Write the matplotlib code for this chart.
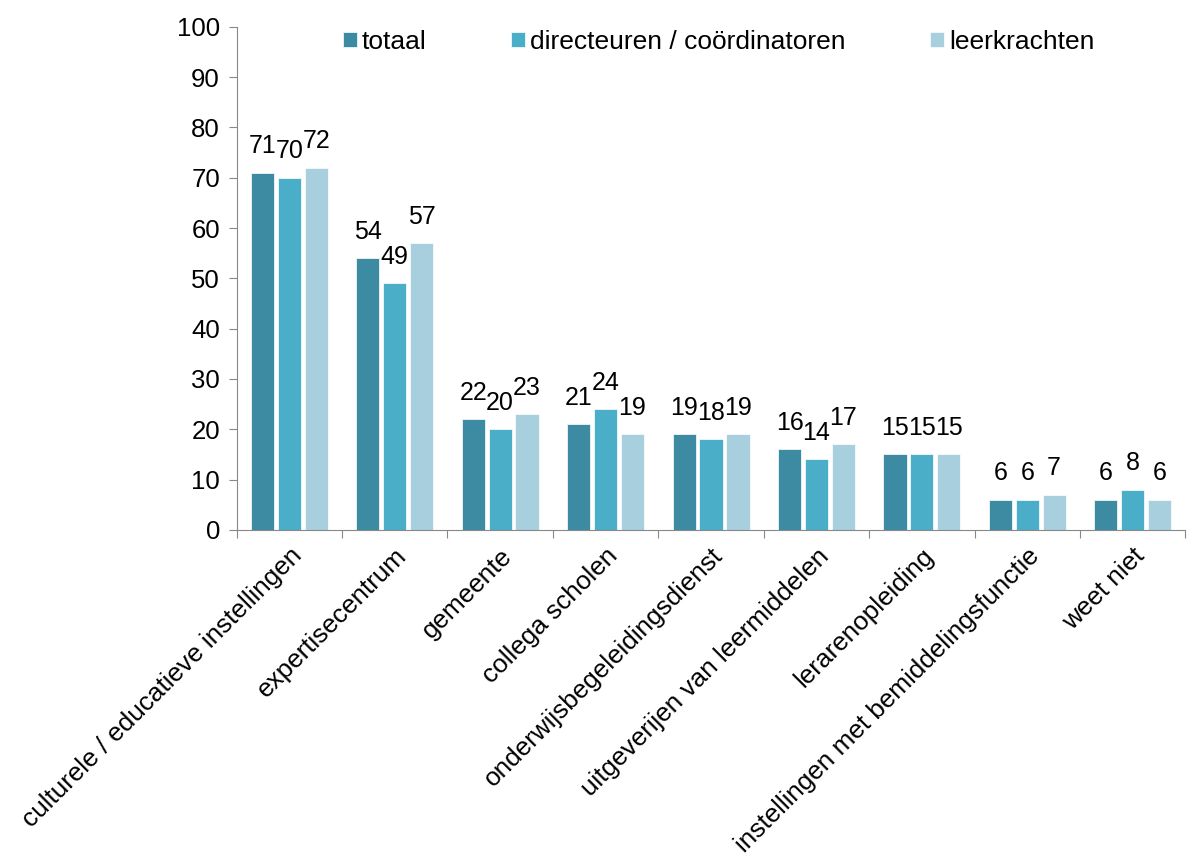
import matplotlib
matplotlib.use("Agg")
import matplotlib.pyplot as plt
import numpy as np

plt.rcParams['font.family'] = ['Liberation Sans', 'DejaVu Sans']

categories = ["culturele / educatieve instellingen", "expertisecentrum", "gemeente",
              "collega scholen", "onderwijsbegeleidingsdienst", "uitgeverijen van leermiddelen",
              "lerarenopleiding", "instellingen met bemiddelingsfunctie", "weet niet"]
series_names = ["totaal", "directeuren / coördinatoren", "leerkrachten"]
totaal = [71, 54, 22, 21, 19, 16, 15, 6, 6]
directeuren = [70, 49, 20, 24, 18, 14, 15, 6, 8]
leerkrachten = [72, 57, 23, 19, 19, 17, 15, 7, 6]
y_ticks = list(range(0, 101, 10))

colors = ["#3C8BA3", "#4BAEC8", "#A8CFDD"]

fig = plt.figure(figsize=(11.95, 8.63), dpi=100)
ax = fig.add_axes([0.198, 0.386, 0.794, 0.583])

x = np.arange(len(categories))
w = 0.22
offsets = [-0.255, 0.0, 0.255]
for vals, off, c, name in zip([totaal, directeuren, leerkrachten], offsets, colors, series_names):
    bars = ax.bar(x + off, vals, width=w, color=c, label=name, edgecolor='white', linewidth=0.5)
    for b, v in zip(bars, vals):
        ax.annotate(str(v), (b.get_x() + b.get_width() / 2, v), xytext=(0, 19),
                    textcoords='offset points', ha='center', va='center', fontsize=18)

ax.set_xlim(-0.5, len(categories) - 0.5)
ax.set_ylim(0, 100)
ax.set_yticks(y_ticks)
ax.set_yticklabels([str(t) for t in y_ticks], fontsize=18.5)
ax.set_xticks(np.arange(len(categories) + 1) - 0.5)
ax.set_xticklabels([])
ax.set_xticks(x, minor=True)
ax.set_xticklabels(categories, minor=True, rotation=45, ha='right', rotation_mode='anchor', fontsize=18.8)
ax.tick_params(axis='x', which='minor', length=0, pad=10)
ax.tick_params(axis='x', which='major', length=6, color='#888888', direction='out')
ax.tick_params(axis='y', length=6, color='#888888', direction='out', pad=6)
for s in ['top', 'right']:
    ax.spines[s].set_visible(False)
for s in ['left', 'bottom']:
    ax.spines[s].set_color('#888888')

leg = ax.legend(loc='center', bbox_to_anchor=(0.508, 0.97), ncol=3, frameon=False,
                fontsize=19, handlelength=0.52, handleheight=0.52, handletextpad=0.2,
                columnspacing=3.2, borderpad=0, borderaxespad=0)

fig.savefig("out.png", dpi=100)
